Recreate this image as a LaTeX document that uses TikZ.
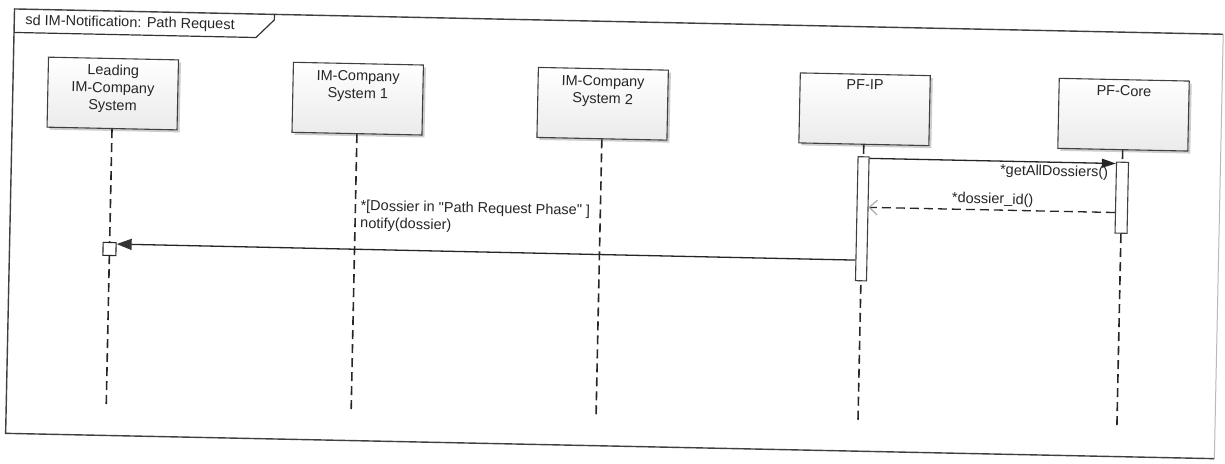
\documentclass[tikz,border=0pt]{standalone}
\usepackage{fontspec}
\newfontfamily\diafont{Liberation Sans}
\usetikzlibrary{arrows.meta,shadows}
\begin{document}
\begin{tikzpicture}[x=1pt,y=-1pt,
  txt/.style={font=\diafont\fontsize{14.5}{17.5}\selectfont, inner sep=0pt, text=black!85},
  headbox/.style={draw=black!75, line width=1.1pt, minimum width=130pt, minimum height=70pt, inner sep=0pt,
     top color=white, bottom color=gray!16,
     drop shadow={shadow xshift=2.5pt, shadow yshift=-2.5pt, fill=gray!55, opacity=.7}},
  lifeline/.style={draw=black!85, line width=1.6pt, dash pattern=on 9pt off 5pt},
  actbar/.style={draw=black!75, fill=white, line width=1.1pt, minimum width=11pt, inner sep=0pt},
  msg/.style={draw=black!85, line width=1.3pt},
]
\useasboundingbox[fill=white] (0,0) rectangle (1225,463);
\begin{scope}[rotate around={-1.2:(612,230)}, transform shape]
  % frame
  \draw[black!75, line width=1.4pt] (1219,21.5) -- (10,21.5) -- (10,446) -- (1219,446);
  \draw[gray!55, line width=1pt] (1219,21.5) -- (1219,446);
  \draw[black!80, line width=1.2pt] (10,45) -- (252,45) -- (270,27) -- (270,21.5);
  \node[txt, anchor=west] (title) at (21,33.5) {sd IM-Notification: Path Request};

  % lifeline heads
  \node[headbox] (h1) at (110,104) {};
  \node[headbox] (h2) at (355,104) {};
  \node[headbox] (h3) at (600,104) {};
  \node[headbox] (h4) at (862,104) {};
  \node[headbox] (h5) at (1121,104) {};
  \node[txt, align=center, anchor=north] (t1) at (110,75) {Leading\\IM-Company\\System};
  \node[txt, align=center, anchor=north] (t2) at (355,76) {IM-Company\\System 1};
  \node[txt, align=center, anchor=north] (t3) at (600,76) {IM-Company\\System 2};
  \node[txt, align=center, anchor=north] (t4) at (862,74) {PF-IP};
  \node[txt, align=center, anchor=north] (t5) at (1121,75) {PF-Core};

  % lifeline ends
  \coordinate (e1) at (110,417);
  \coordinate (e2) at (355,417);
  \coordinate (e3) at (600,417);
  \coordinate (e4) at (862,417);
  \coordinate (e5) at (1121,417);
  \draw[lifeline] (h1.south) -- (e1);
  \draw[lifeline] (h2.south) -- (e2);
  \draw[lifeline] (h3.south) -- (e3);
  \draw[lifeline] (h4.south) -- (e4);
  \draw[lifeline] (h5.south) -- (e5);

  % activation bars
  \node[actbar, minimum height=124pt, anchor=north] (b1) at (862,151) {};
  \node[actbar, minimum height=71pt, minimum width=12pt, anchor=north] (b2) at (1121,151) {};
  \node[draw=black!85, fill=white, line width=1.1pt, minimum size=13pt, inner sep=0pt] (sq) at (110,259.5) {};

  % messages
  \draw[msg, -{Triangle[length=14pt,width=9pt]}] ([yshift=-2pt]b1.north east) -- ([yshift=-2pt]b2.north west);
  \node[txt, anchor=east] (l1) at (1107,163) {*getAllDossiers()};

  \draw[msg, dash pattern=on 9pt off 5pt, -{Straight Barb[length=8pt,width=15pt,line width=1.1pt,color=gray!70]}]
     ([yshift=-51pt]b2.north west) -- ([yshift=-51pt]b1.north east);
  \node[txt] (l2) at (992,192) {*dossier\_id()};

  \draw[msg, -{Triangle[length=15pt,width=11pt,color=black!80]}] ([yshift=-104pt]b1.north west) -- ([yshift=-2pt]sq.north east);
  \node[txt, align=left, anchor=north west] (l3) at (360,205) {*[Dossier in "Path Request Phase" ]\\notify(dossier)};
\end{scope}
\end{tikzpicture}
\end{document}
